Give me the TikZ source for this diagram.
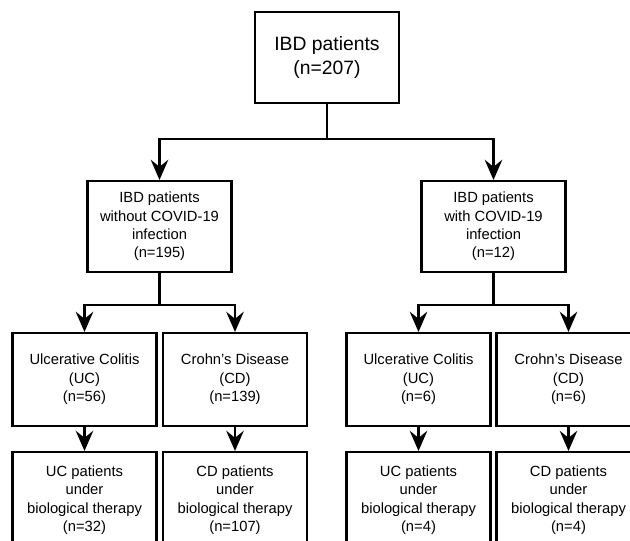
\documentclass[tikz,border=0pt]{standalone}
\usepackage{fontspec}
\setmainfont{Liberation Sans}
\usetikzlibrary{arrows.meta,positioning}

\begin{document}
\begin{tikzpicture}[x=0.02cm, y=-0.02cm,
    box/.style={draw, rectangle, line width=1.2pt, align=center, minimum width=2.88cm, inner sep=0pt, font=\fontsize{8.4}{10.5}\selectfont},
    arr/.style={-{Stealth[length=11.5pt,width=10pt,inset=4pt]}, line width=1.2pt}]
    \clip (0,0) rectangle (630,541);

    \node (ibd) [box, minimum height=1.82cm, font=\fontsize{11}{14}\selectfont] at (327,57.5) {IBD patients\\(n=207)};
    \node (nocovid) [box, minimum height=1.82cm] at (159.5,226.5) {IBD patients\\without COVID-19\\infection\\(n=195)};
    \node (covid) [box, minimum height=1.82cm] at (493.5,226.5) {IBD patients\\with COVID-19\\infection\\(n=12)};

    \node (ucA) [box, minimum height=1.86cm] at (84.5,379.5) {Ulcerative Colitis\\(UC)\\(n=56)};
    \node (cdA) [box, minimum height=1.86cm] at (235,379.5) {Crohn’s Disease\\(CD)\\(n=139)};
    \node (ucB) [box, minimum height=1.86cm] at (418.5,379.5) {Ulcerative Colitis\\(UC)\\(n=6)};
    \node (cdB) [box, minimum height=1.86cm] at (568.5,379.5) {Crohn’s Disease\\(CD)\\(n=6)};

    \node (ucAbio) [box, minimum height=1.92cm] at (84.5,500) {UC patients\\under\\biological therapy\\(n=32)};
    \node (cdAbio) [box, minimum height=1.92cm] at (235,500) {CD patients\\under\\biological therapy\\(n=107)};
    \node (ucBbio) [box, minimum height=1.92cm] at (418.5,500) {UC patients\\under\\biological therapy\\(n=4)};
    \node (cdBbio) [box, minimum height=1.92cm] at (568.5,500) {CD patients\\under\\biological therapy\\(n=4)};

    \coordinate (split0) at (327,139);
    \coordinate (splitA) at (159.5,305);
    \coordinate (splitB) at (493.5,305);

    \draw [line width=1.2pt] (ibd) -- (split0);
    \draw [arr] (split0) -| (nocovid);
    \draw [arr] (split0) -| (covid);

    \draw [line width=1.2pt] (nocovid) -- (splitA);
    \draw [arr] (splitA) -| (ucA);
    \draw [arr] (splitA) -| (cdA);

    \draw [line width=1.2pt] (covid) -- (splitB);
    \draw [arr] (splitB) -| (ucB);
    \draw [arr] (splitB) -| (cdB);

    \draw [arr] (ucA) -- (ucAbio);
    \draw [arr] (cdA) -- (cdAbio);
    \draw [arr] (ucB) -- (ucBbio);
    \draw [arr] (cdB) -- (cdBbio);
\end{tikzpicture}
\end{document}
